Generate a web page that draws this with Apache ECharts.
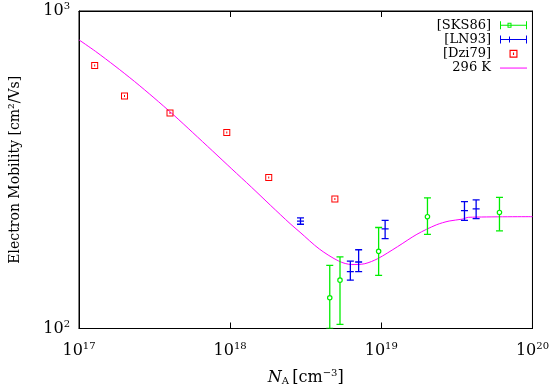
<!DOCTYPE html>
<html>
<head>
<meta charset="utf-8">
<script src="https://cdn.jsdelivr.net/npm/echarts@6/dist/echarts.min.js"></script>
<style>html,body{margin:0;padding:0;background:#fff}#c{width:552px;height:391px}</style>
</head>
<body>
<div id="c"></div>
<script>
// Model curve (296 K)
var curveN  = [1e17, 1.287e17, 1.73e17, 2.328e17, 3.133e17, 4.216e17, 5.66e17, 7.62e17, 1.026e18, 1.38e18, 1.855e18, 2.49e18, 2.90e18, 3.89e18, 5.24e18, 6.38e18, 7.78e18, 9.48e18, 1.28e19, 1.72e19, 2.31e19, 2.81e19, 3.43e19, 3.78e19, 1e20];
var curveMu = [811, 746, 671, 600, 533, 471, 414, 363, 318, 279, 244, 214, 201, 178, 163, 159, 160, 166, 181, 198, 212, 218, 221, 224, 225];

// [Dzi79]
var dziN  = [1.27e17, 2.0e17, 4.0e17, 9.5e17, 1.8e18, 4.93e18];
var dziMu = [674, 540, 477, 414, 299, 256];

// [LN93] with error bars
var lnN  = [2.92e18, 6.24e18, 7.08e18, 1.06e19, 3.55e19, 4.24e19];
var lnMu = [218, 151, 162, 206, 235, 238];
var lnLo = [213, 142, 151, 192, 219, 222];
var lnHi = [223, 163, 177, 219, 251, 254];

// [SKS86] with error bars
var sksN  = [4.56e18, 5.33e18, 9.6e18, 2.02e19, 6.05e19];
var sksMu = [125, 142, 175, 225, 232];
var sksLo = [100, 103, 147, 198, 203];
var sksHi = [158, 168, 208, 258, 259];

var xTicks = [1e17, 1e18, 1e19, 1e20];
var yTicks = [100, 1000];

function rows(n, m, lo, hi) {
  return n.map(function (v, i) { return [v, m[i], lo[i], hi[i]]; });
}

function errRender(color, withCircle, midTick) {
  return function (params, api) {
    var x = api.value(0), m = api.value(1), lo = api.value(2), hi = api.value(3);
    var pm = api.coord([x, m]), pl = api.coord([x, lo]), ph = api.coord([x, hi]);
    var hw = 3.5;
    var st = { stroke: color, lineWidth: 1.3 };
    var ch = [
      { type: 'line', shape: { x1: pm[0], y1: pl[1], x2: pm[0], y2: ph[1] }, style: st },
      { type: 'line', shape: { x1: pm[0] - hw, y1: pl[1], x2: pm[0] + hw, y2: pl[1] }, style: st },
      { type: 'line', shape: { x1: pm[0] - hw, y1: ph[1], x2: pm[0] + hw, y2: ph[1] }, style: st }
    ];
    if (midTick) {
      ch.push({ type: 'line', shape: { x1: pm[0] - hw, y1: pm[1], x2: pm[0] + hw, y2: pm[1] }, style: st });
    }
    if (withCircle) {
      ch.push({ type: 'circle', shape: { cx: pm[0], cy: pm[1], r: 2.2 }, style: { stroke: color, fill: '#fff', lineWidth: 1.2 } });
    }
    return { type: 'group', children: ch };
  };
}

var serif = 'DejaVu Serif';

function supLabel(v) {
  var e = Math.round(Math.log(v) / Math.LN10);
  return '{b|10}{s|' + e + '}';
}
var rich = {
  b: { fontFamily: serif, fontSize: 16, color: '#000' },
  s: { fontFamily: serif, fontSize: 10, color: '#000', padding: [0, 0, 9, 0] }
};

var chart = echarts.init(document.getElementById('c'), null, { renderer: 'canvas' });

var sksIcon = 'path://M0,0h1v8h-1z M0,3.5h27v1h-27z M26,0h1v8h-1z M7.5,1.5h4v5h-4z M8.5,2.5v3h2v-3z';
var lnIcon  = 'path://M0,0h1v8h-1z M0,3.5h27v1h-27z M26,0h1v8h-1z M9,1h1v6h-1z';
var dziSym  = 'path://M0,0h7v7h-7z M1,1v5h5v-5z M3,2.5h1v2h-1z';
var lineIcon = 'path://M0,0h27v1h-27z';

chart.setOption({
  animation: false,
  backgroundColor: '#fff',
  grid: { left: 73, right: 13, top: 11, bottom: 60, show: true, borderColor: '#000', borderWidth: 1 },
  legend: {
    right: 25, top: 18, orient: 'vertical', align: 'right', padding: 0,
    itemWidth: 27, itemHeight: 8, itemGap: 0, symbolKeepAspect: true,
    textStyle: { fontFamily: serif, fontSize: 13, color: '#000', lineHeight: 14.3, padding: [0, 4, 0, 0] },
    data: [
      { name: '[SKS86]', icon: sksIcon, itemStyle: { color: '#00ee00' } },
      { name: '[LN93]', icon: lnIcon, itemStyle: { color: '#0000ee' } },
      { name: '[Dzi79]', icon: dziSym, itemStyle: { color: '#ff0000' } },
      { name: '296 K', icon: lineIcon, itemStyle: { color: '#ff00ff' } }
    ]
  },
  xAxis: [{
    type: 'log', logBase: 10, min: xTicks[0], max: xTicks[xTicks.length - 1],
    name: '{i|N}{sub|A} {n|[cm}{sup|−3}{n|]}', nameLocation: 'middle', nameGap: 40,
    nameTextStyle: {
      rich: {
        i: { fontFamily: serif, fontStyle: 'italic', fontSize: 16, color: '#000' },
        sub: { fontFamily: serif, fontSize: 10, color: '#000', padding: [6, 0, 0, 0] },
        n: { fontFamily: serif, fontSize: 16, color: '#000' },
        sup: { fontFamily: serif, fontSize: 10, color: '#000', padding: [0, 0, 9, 0] }
      }
    },
    axisLine: { show: true, lineStyle: { color: '#000', width: 1 } },
    axisTick: { show: true, inside: true, length: 6, lineStyle: { color: '#000' } },
    minorTick: { show: false },
    splitLine: { show: false },
    axisLabel: { margin: 13, formatter: supLabel, rich: rich }
  }, {
    type: 'log', logBase: 10, min: xTicks[0], max: xTicks[xTicks.length - 1], position: 'top',
    axisLine: { show: true, lineStyle: { color: '#000' } },
    axisTick: { show: true, inside: true, length: 6, lineStyle: { color: '#000' } },
    axisLabel: { show: false }, splitLine: { show: false }
  }],
  yAxis: [{
    type: 'log', logBase: 10, min: yTicks[0], max: yTicks[1],
    name: 'Electron Mobility [cm²/Vs]', nameLocation: 'middle', nameGap: 57,
    nameTextStyle: { fontFamily: serif, fontSize: 14, color: '#000' },
    axisLine: { show: true, lineStyle: { color: '#000', width: 1 } },
    axisTick: { show: true, inside: true, length: 6, lineStyle: { color: '#000' } },
    splitLine: { show: false },
    axisLabel: { margin: 9, formatter: supLabel, rich: rich }
  }, {
    type: 'log', logBase: 10, min: yTicks[0], max: yTicks[1], position: 'right',
    axisLine: { show: true, lineStyle: { color: '#000' } },
    axisTick: { show: true, inside: true, length: 6, lineStyle: { color: '#000' } },
    axisLabel: { show: false }, splitLine: { show: false }
  }],
  series: [
    {
      name: '[SKS86]', type: 'custom', clip: true,
      itemStyle: { color: '#00ee00' },
      renderItem: errRender('#00ee00', true, false),
      encode: { x: 0, y: 1 }, data: rows(sksN, sksMu, sksLo, sksHi), z: 3
    },
    {
      name: '[LN93]', type: 'custom', clip: true,
      itemStyle: { color: '#0000ee' },
      renderItem: errRender('#0000ee', false, true),
      encode: { x: 0, y: 1 }, data: rows(lnN, lnMu, lnLo, lnHi), z: 3
    },
    {
      name: '[Dzi79]', type: 'scatter', symbol: dziSym, symbolSize: 7,
      itemStyle: { color: '#ff0000', opacity: 1 },
      data: dziN.map(function (v, i) { return [v, dziMu[i]]; }), z: 4
    },
    {
      name: '296 K', type: 'line', symbol: 'none', smooth: 0.3,
      lineStyle: { color: '#ff00ff', width: 1 }, itemStyle: { color: '#ff00ff' },
      data: curveN.map(function (v, i) { return [v, curveMu[i]]; }), z: 2
    }
  ]
});
</script>
</body>
</html>
